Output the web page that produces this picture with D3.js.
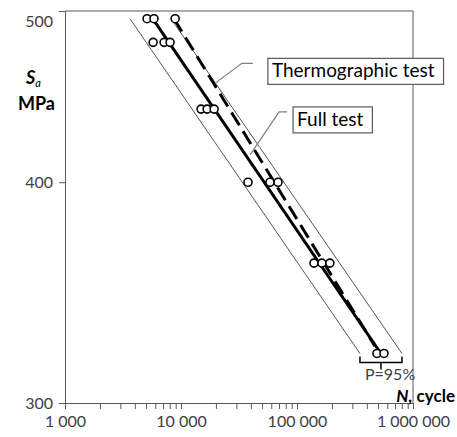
<!DOCTYPE html>
<html lang="en">
<head>
<meta charset="UTF-8">
<title>S-N curve</title>
<script src="https://d3js.org/d3.v7.min.js"></script>
<style>
  body { margin: 0; background: #fff; }
  text { font-family: Lato, "Open Sans", sans-serif; }
</style>
</head>
<body>
<svg></svg>
<script>

var width = 457, height = 437;

// test points: cycles to failure and stress amplitude
var cycles = [5100, 5850, 8900, 5750, 7150, 8050, 14900, 16800, 19300,
              37800, 58500, 68600, 140000, 164000, 192000, 489000, 562000];
var stress = [495, 495, 495, 480, 480, 480, 440, 440, 440,
              400, 400, 400, 360, 360, 360, 320, 320];

// fitted lines (end points)
var fullN = [5700, 520000],  fullS = [495, 320.5];
var thermoN = [8700, 470000], thermoS = [495, 323];
var lowBandN = [3630, 349000], highBandN = [8200, 803000], bandS = [495, 320];

var xTicks = [];
[1000, 10000, 100000].forEach(function (d) {
    for (var k = 1; k < 10; k++) xTicks.push(d * k);
});
xTicks.push(1000000);
var xLabels = [1000, 10000, 100000, 1000000];
var yTicks = [300, 400, 500];

var svg = d3.select("svg").attr("width", width).attr("height", height);

var x = d3.scaleLog().domain([1000, 1000000]).range([65, 413]);
var y = d3.scaleLog().domain([300, 500]).range([403, 11]);

var axisColor = "#595959";

// frame (top and right)
svg.append("line").attr("x1", x(1000)).attr("x2", x(1000000))
    .attr("y1", y(500)).attr("y2", y(500)).attr("stroke", axisColor);
svg.append("line").attr("x1", x(1000000)).attr("x2", x(1000000))
    .attr("y1", y(500)).attr("y2", y(300)).attr("stroke", axisColor);

var fmt = function (d) { return d3.format(",")(d).replace(/,/g, " "); };

var xAxis = d3.axisBottom(x).tickValues(xTicks).tickSize(6).tickPadding(7)
    .tickFormat(function (d) { return xLabels.indexOf(d) >= 0 ? fmt(d) : ""; });
var gx = svg.append("g").attr("transform", "translate(0," + y(300) + ")").call(xAxis);

var yAxis = d3.axisLeft(y).tickValues(yTicks).tickSize(6).tickPadding(6)
    .tickFormat(d3.format("d"));
var gy = svg.append("g").attr("transform", "translate(" + x(1000) + ",0)").call(yAxis);

[gx, gy].forEach(function (g) {
    g.selectAll("path, line").attr("stroke", axisColor);
    g.selectAll("text").attr("fill", "#404040").style("font-size", "16px")
        .style("font-family", "Lato");
});
// top label sits a little lower, like the original
gy.selectAll(".tick").filter(function (d) { return d === 500; })
    .select("text").attr("dy", "0.95em");

// confidence band lines
[lowBandN, highBandN].forEach(function (ns) {
    svg.append("line")
        .attr("x1", x(ns[0])).attr("y1", y(bandS[0]))
        .attr("x2", x(ns[1])).attr("y2", y(bandS[1]))
        .attr("stroke", "#555").attr("stroke-width", 1);
});

// full test line
svg.append("line")
    .attr("x1", x(fullN[0])).attr("y1", y(fullS[0]))
    .attr("x2", x(fullN[1])).attr("y2", y(fullS[1]))
    .attr("stroke", "#000").attr("stroke-width", 3);

// thermographic line
svg.append("line")
    .attr("x1", x(thermoN[0])).attr("y1", y(thermoS[0]))
    .attr("x2", x(thermoN[1])).attr("y2", y(thermoS[1]))
    .attr("stroke", "#000").attr("stroke-width", 3)
    .attr("stroke-dasharray", "15,7");

// points
svg.selectAll("circle.pt")
    .data(cycles)
    .enter()
    .append("circle")
    .attr("class", "pt")
    .attr("cx", function (d) { return x(d); })
    .attr("cy", function (d, i) { return y(stress[i]); })
    .attr("r", 4)
    .attr("fill", "#fff")
    .attr("stroke", "#000")
    .attr("stroke-width", 1.6);

// P=95% bracket under the band ends
var bx1 = x(lowBandN[1]), bx2 = x(highBandN[1]), by = y(bandS[1]) + 9;
var bmid = (bx1 + bx2) / 2;
svg.append("path")
    .attr("d", "M" + bx1 + "," + (by - 6) + "V" + by + "H" + bx2 + "V" + (by - 6)
        + "M" + bmid + "," + by + "V" + (by + 7))
    .attr("fill", "none").attr("stroke", "#000").attr("stroke-width", 1.5);
svg.append("text").attr("x", bx1 + 5).attr("y", by + 18)
    .attr("fill", "#404040").style("font-size", "16px").text("P=95%");

// callouts
function callout(anchorN, anchorS, dx, dy, run, gap, label) {
    var ax = x(anchorN), ay = y(anchorS);
    var ex = ax + dx, ey = ay + dy;
    svg.append("path")
        .attr("d", "M" + ax + "," + ay + "L" + ex + "," + ey + "H" + (ex + run))
        .attr("fill", "none").attr("stroke", "#7f7f7f").attr("stroke-width", 1.2);
    var g = svg.append("g");
    var box = g.append("rect")
        .attr("x", ex + run + gap).attr("y", ey - 5).attr("height", 26)
        .attr("fill", "#fff").attr("stroke", "#595959").attr("stroke-width", 1.2);
    var t = g.append("text").attr("x", ex + run + gap + 4).attr("y", ey + 14)
        .attr("fill", "#000").style("font-size", "19px").text(label);
    box.attr("width", t.node().getComputedTextLength() + 13);
}
callout(19600, 455, 27, -20, 11, 15, "Thermographic test");
callout(39400, 414.5, 29, -43, 8, 6, "Full test");

// axis titles
var sa = svg.append("text").attr("x", 26).attr("y", 84)
    .style("font-size", "18px").style("font-weight", "bold").attr("fill", "#000");
sa.append("tspan").style("font-style", "italic").text("S");
sa.append("tspan").attr("dy", 3).style("font-style", "italic").style("font-size", "11px")
    .style("font-weight", "normal").text("a");
svg.append("text").attr("x", 18).attr("y", 110)
    .style("font-size", "18px").style("font-weight", "bold").attr("fill", "#000").text("MPa");

var nt = svg.append("text").attr("x", 455).attr("y", 402).attr("text-anchor", "end")
    .style("font-size", "17px").style("font-weight", "bold").attr("fill", "#000");
nt.append("tspan").style("font-style", "italic").text("N,");
nt.append("tspan").text(" cycle");

</script>
</body>
</html>
